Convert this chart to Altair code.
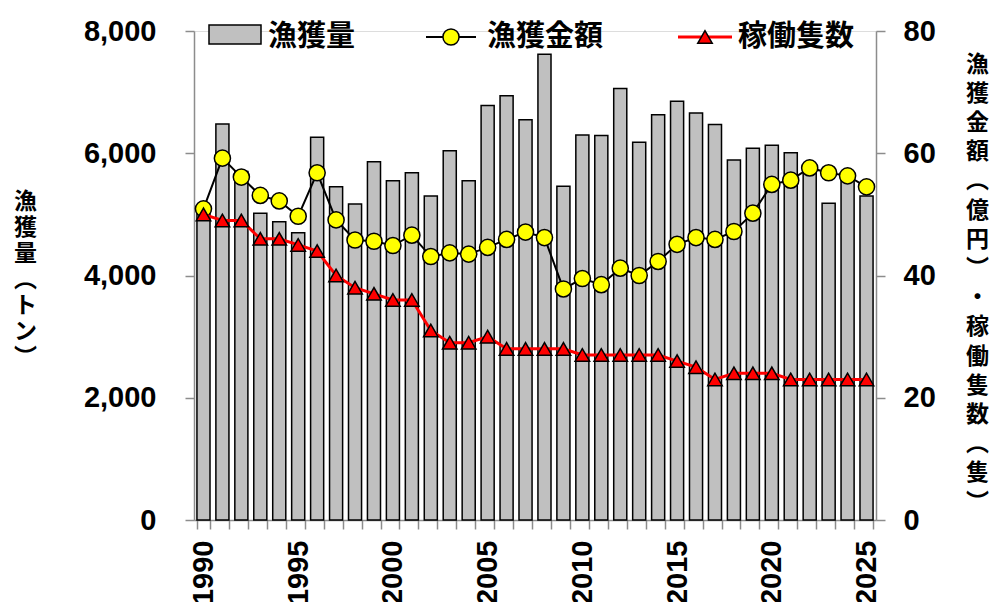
import altair as alt
import pandas as pd

years = list(range(1990, 2026))
catch_t = [5050, 6480, 5700, 5020, 4880, 4700, 6260, 5450, 5170, 5860,
           5550, 5680, 5300, 6040, 5550, 6780, 6940, 6550, 7620, 5460,
           6300, 6290, 7060, 6180, 6630, 6850, 6660, 6470, 5890, 6080,
           6130, 6010, 5750, 5180, 5600, 5300]
value_oku = [50.9, 59.2, 56.1, 53.1, 52.2, 49.7, 56.8, 49.1, 45.8, 45.6,
             44.9, 46.6, 43.1, 43.7, 43.5, 44.6, 45.9, 47.1, 46.2, 37.8,
             39.5, 38.5, 41.2, 40.0, 42.3, 45.1, 46.2, 45.9, 47.2, 50.2,
             54.9, 55.6, 57.6, 56.8, 56.3, 54.5]
vessels = [50, 49, 49, 46, 46, 45, 44, 40, 38, 37,
           36, 36, 31, 29, 29, 30, 28, 28, 28, 28,
           27, 27, 27, 27, 27, 26, 25, 23, 24, 24,
           24, 23, 23, 23, 23, 23]

left_ticks = [0, 2000, 4000, 6000, 8000]
right_ticks = [0, 20, 40, 60, 80]
left_title = ["漁", "獲", "量", "︵", "ト", "ン", "︶"]
right_title = ["漁", "獲", "金", "額", "︵", "億", "円", "︶", "・",
               "稼", "働", "隻", "数", "︵", "隻", "︶"]
legend_names = ["漁獲量", "漁獲金額", "稼働隻数"]

df = pd.DataFrame({"year": years, "catch": catch_t, "value": value_oku, "vessels": vessels})
one = pd.DataFrame({"k": [0]})

W, H = 682, 489
NUM = "Liberation Sans"
CJK = "Noto Sans CJK JP"
AX = "#8c8c8c"

x_enc = alt.X(
    "year:O",
    scale=alt.Scale(paddingInner=0.31, paddingOuter=0.155),
    axis=alt.Axis(
        title=None, labelAngle=-90, labelAlign="right", labelBaseline="middle",
        labelExpr="datum.value % 5 == 0 ? datum.label : ''", labelOverlap=False,
        tickBand="extent", tickSize=9, labelPadding=11,
        labelFont=NUM, labelFontSize=29, labelFontWeight="bold", labelColor="black",
        domainColor=AX, tickColor=AX, domainWidth=1.5, tickWidth=1.5,
    ),
)

left_axis = alt.Axis(
    orient="left", values=left_ticks, format=",.0f", grid=False,
    tickSize=9, labelPadding=29, labelFont=NUM, labelFontSize=29,
    labelFontWeight="bold", labelColor="black",
    domainColor=AX, tickColor=AX, domainWidth=1.5, tickWidth=1.5,
    title=left_title, titleAngle=0, titleX=-169, titleY=159,
    titleAlign="center", titleBaseline="top", titleFont=CJK,
    titleFontSize=23, titleFontWeight="bold", titleLineHeight=26, titleColor="black",
)

right_axis = alt.Axis(
    orient="right", values=right_ticks, format=".0f", grid=False,
    tickSize=9, labelPadding=18, labelFont=NUM, labelFontSize=29,
    labelFontWeight="bold", labelColor="black",
    domainColor=AX, tickColor=AX, domainWidth=1.5, tickWidth=1.5,
    title=right_title, titleAngle=0, titleX=101, titleY=22,
    titleAlign="center", titleBaseline="top", titleFont=CJK,
    titleFontSize=23, titleFontWeight="bold", titleLineHeight=29.2, titleColor="black",
)

right_scale = alt.Scale(domain=[0, 80], nice=False)

bars = alt.Chart(df).mark_bar(fill="#c0c0c0", stroke="black", strokeWidth=1.5).encode(
    x=x_enc,
    y=alt.Y("catch:Q", scale=alt.Scale(domain=[0, 8000], nice=False), axis=left_axis),
)

line_v = alt.Chart(df).mark_line(color="black", strokeWidth=2).encode(
    x=x_enc, y=alt.Y("value:Q", scale=right_scale, axis=right_axis))
pts_v = alt.Chart(df).mark_point(shape="circle", filled=True, fill="#ffff00", stroke="black",
                                 strokeWidth=1.5, size=260, opacity=1).encode(
    x=x_enc, y=alt.Y("value:Q", scale=right_scale, axis=right_axis))
line_s = alt.Chart(df).mark_line(color="#ff0000", strokeWidth=3).encode(
    x=x_enc, y=alt.Y("vessels:Q", scale=right_scale, axis=right_axis))
pts_s = alt.Chart(df).mark_point(shape="triangle-up", filled=True, fill="#ff0000", stroke="black",
                                 strokeWidth=1.5, size=210, opacity=1).encode(
    x=x_enc, y=alt.Y("vessels:Q", scale=right_scale, axis=right_axis))

right_layer = alt.layer(line_v, pts_v, line_s, pts_s)

LY = 6
text_kw = dict(align="left", baseline="middle", font=CJK, fontSize=29, fontWeight="bold", color="black")
leg = alt.layer(
    alt.Chart(one).mark_rect(fill="#c0c0c0", stroke="black", strokeWidth=1.5).encode(
        x=alt.value(15), x2=alt.value(67), y=alt.value(-6), y2=alt.value(13)),
    alt.Chart(one).mark_text(text=legend_names[0], **text_kw).encode(x=alt.value(74), y=alt.value(LY)),
    alt.Chart(one).mark_rule(color="black", strokeWidth=2).encode(
        x=alt.value(232), x2=alt.value(282), y=alt.value(LY)),
    alt.Chart(one).mark_point(shape="circle", filled=True, fill="#ffff00", stroke="black",
                              strokeWidth=1.5, size=260, opacity=1).encode(x=alt.value(257), y=alt.value(LY)),
    alt.Chart(one).mark_text(text=legend_names[1], **text_kw).encode(x=alt.value(293), y=alt.value(LY)),
    alt.Chart(one).mark_rule(color="#ff0000", strokeWidth=3).encode(
        x=alt.value(484), x2=alt.value(538), y=alt.value(LY)),
    alt.Chart(one).mark_point(shape="triangle-up", filled=True, fill="#ff0000", stroke="black",
                              strokeWidth=1.5, size=210, opacity=1).encode(x=alt.value(511), y=alt.value(LY)),
    alt.Chart(one).mark_text(text=legend_names[2], **text_kw).encode(x=alt.value(544), y=alt.value(LY)),
)

chart = alt.layer(bars, right_layer, leg).resolve_scale(y="independent").properties(
    width=W, height=H,
    autosize=alt.AutoSizeParams(type="none"),
    padding={"left": 186, "top": 23, "right": 113, "bottom": 82},
).configure_view(stroke=None).configure(background="white")

chart.save("out.html", embed_options={"renderer": "svg", "actions": False})
